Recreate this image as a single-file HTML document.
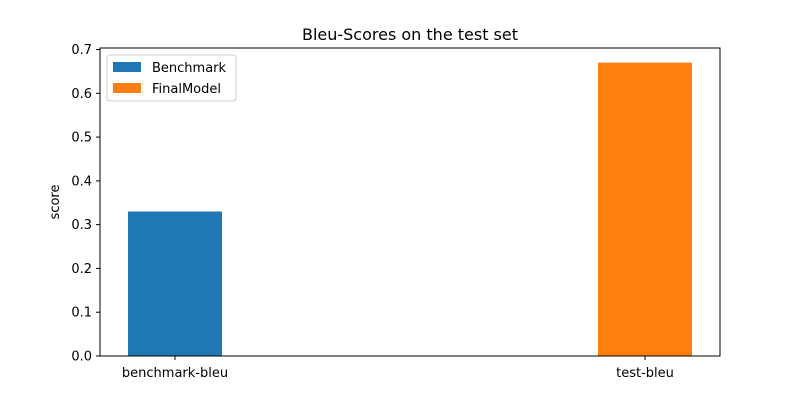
<!DOCTYPE html>
<html><head><meta charset="utf-8"><style>
body{margin:0;background:#fff;}
svg{display:block;font-family:"DejaVu Sans","Liberation Sans",sans-serif;}
</style></head><body>
<svg id="chart" width="800" height="400">
<text x="410" y="40" text-anchor="middle" font-size="16">Bleu-Scores on the test set</text>
<text transform="translate(59,202) rotate(-90)" text-anchor="middle" font-size="13">score</text>
<g id="bars"></g><g id="yticks"></g><g id="xticks"></g>
<rect x="100" y="48" width="620" height="308" fill="none" stroke="#000" stroke-width="1"/>
<g>
<rect x="107" y="55" width="129" height="46" rx="3" fill="#fff" stroke="#ccc"/>
<rect x="113" y="62" width="28" height="10" fill="#1f77b4"/>
<text x="152" y="72" font-size="13">Benchmark</text>
<rect x="113" y="83" width="28" height="10" fill="#ff7f0e"/>
<text x="152" y="93" font-size="13">FinalModel</text>
</g>
</svg>
<script>
const categories=["benchmark-bleu","test-bleu"];
const values=[0.33,0.67];
const colors=["#1f77b4","#ff7f0e"];
const yTicks=[0,0.1,0.2,0.3,0.4,0.5,0.6,0.7];
const NS="http://www.w3.org/2000/svg";
const yMax=0.7035,plotTop=48,plotBottom=356;
const y=v=>plotBottom-(v/yMax)*(plotBottom-plotTop);
const xc=i=>175+i*470;
const bw=94;
const bars=document.getElementById('bars');
values.forEach((v,i)=>{
 const r=document.createElementNS(NS,'rect');
 r.setAttribute('x',xc(i)-bw/2);r.setAttribute('y',y(v));
 r.setAttribute('width',bw);r.setAttribute('height',plotBottom-y(v));
 r.setAttribute('fill',colors[i]);
 
 
 bars.appendChild(r);
});
const yt=document.getElementById('yticks');
yTicks.forEach(t=>{
 const l=document.createElementNS(NS,'line');
 l.setAttribute('x1',96);l.setAttribute('x2',100);l.setAttribute('y1',y(t));l.setAttribute('y2',y(t));l.setAttribute('stroke','#000');
 yt.appendChild(l);
 const tx=document.createElementNS(NS,'text');
 tx.setAttribute('x',92);tx.setAttribute('y',y(t)+4.5);tx.setAttribute('text-anchor','end');tx.setAttribute('font-size','13');
 tx.textContent=t.toFixed(1);
 
 
 yt.appendChild(tx);
});
const xt=document.getElementById('xticks');
categories.forEach((c,i)=>{
 const l=document.createElementNS(NS,'line');
 l.setAttribute('x1',xc(i));l.setAttribute('x2',xc(i));l.setAttribute('y1',356);l.setAttribute('y2',360);l.setAttribute('stroke','#000');
 xt.appendChild(l);
 const tx=document.createElementNS(NS,'text');
 tx.setAttribute('x',xc(i));tx.setAttribute('y',377);tx.setAttribute('text-anchor','middle');tx.setAttribute('font-size','13');
 tx.textContent=c;
 
 
 xt.appendChild(tx);
});
</script>
</body></html>
